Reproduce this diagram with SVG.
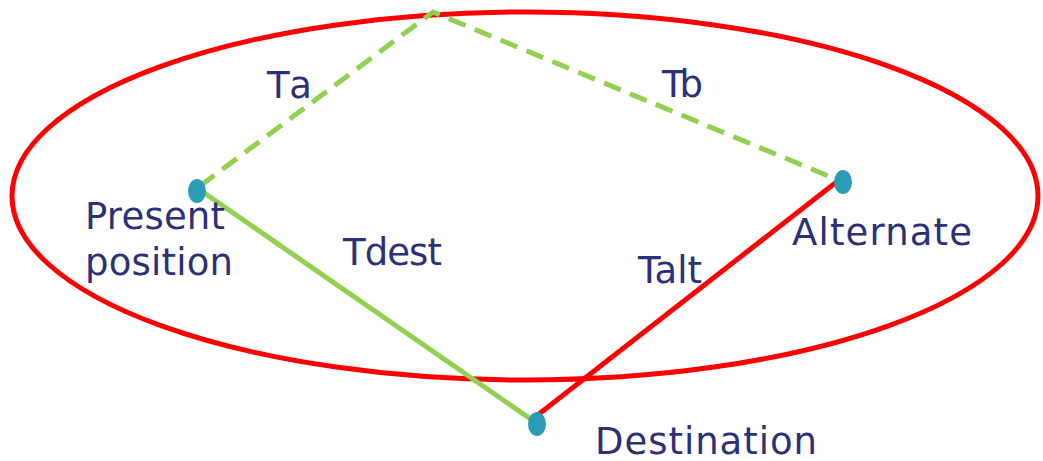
<svg xmlns="http://www.w3.org/2000/svg" width="1043" height="461" viewBox="0 0 1043 461">
<style>
.lbl{font-family:"DejaVu Sans","Liberation Sans",sans-serif;font-size:37px;fill:#2b3078;}
.dot{fill:#2b9cb5;}
</style>
<rect width="1043" height="461" fill="#fff"/>
<g id="region">
<ellipse cx="525" cy="196" rx="513" ry="184" fill="none" stroke="#ff0000" stroke-width="5"/>
</g>
<g id="connectors" fill="none" stroke-width="5">
<polyline points="200,186 433,12 838,180" stroke="#92d050" stroke-dasharray="18,10"/>
<line x1="200" y1="190" x2="532" y2="420" stroke="#92d050"/>
<line x1="530" y1="421" x2="839" y2="180" stroke="#ff0000"/>
</g>
<g id="present"><ellipse class="dot" cx="197" cy="191" rx="9" ry="12"/><text class="lbl" x="85" y="229" textLength="140">Present</text><text class="lbl" x="85" y="275" textLength="148">position</text></g>
<g id="alternate"><ellipse class="dot" cx="843" cy="182" rx="9" ry="12"/><text class="lbl" x="792" y="245" textLength="180">Alternate</text></g>
<g id="destination"><ellipse class="dot" cx="537" cy="424" rx="9" ry="12"/><text class="lbl" x="595" y="454" textLength="222">Destination</text></g>
<g id="labels">
<text class="lbl" x="267" y="98" textLength="45">Ta</text>
<text class="lbl" x="662" y="97" textLength="41">Tb</text>
<text class="lbl" x="343" y="265" textLength="99">Tdest</text>
<text class="lbl" x="638" y="283" textLength="64">Talt</text>
</g>
</svg>
